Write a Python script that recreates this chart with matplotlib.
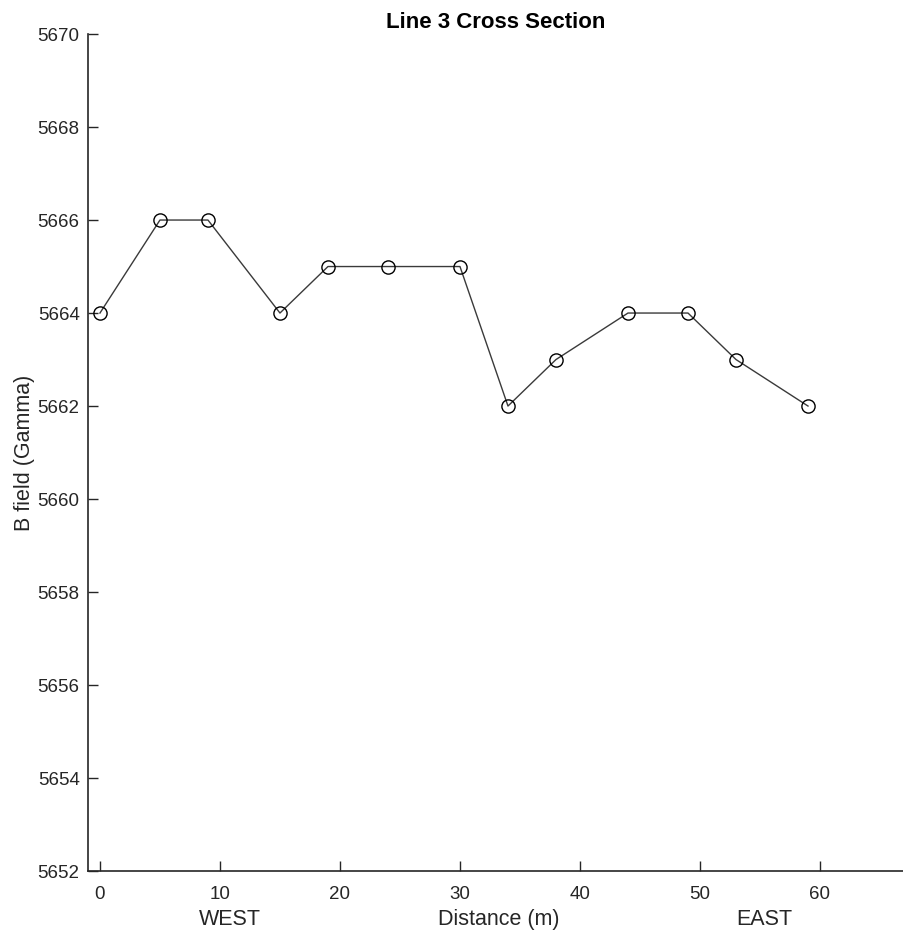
import matplotlib
matplotlib.use("Agg")
import matplotlib.pyplot as plt
import matplotlib.transforms as mtransforms

plt.rcParams['font.family'] = ['Liberation Sans', 'DejaVu Sans']

# magnetometer readings along line 3
distance = [0, 5, 9, 15, 19, 24, 30, 34, 38, 44, 49, 53, 59]
b_field = [5664, 5666, 5666, 5664, 5665, 5665, 5665, 5662, 5663, 5664, 5664, 5663, 5662]

x_ticks = [0, 10, 20, 30, 40, 50, 60]
y_ticks = list(range(5652, 5671, 2))
direction_labels = ["WEST", "EAST"]
direction_pos = [10.8, 55.4]

fig = plt.figure(figsize=(9.04, 9.35), dpi=100)
ax = fig.add_axes([0.0973, 0.0684, 0.9027, 0.8952])

ax.plot(distance, b_field, color='#3a3a3a', linewidth=1.0,
        marker='o', markersize=9.5, markerfacecolor='none',
        markeredgecolor='black', markeredgewidth=1.0)

ax.set_xlim(-1, 67)
ax.set_ylim(5652, 5670)
ax.set_xticks(x_ticks)
ax.set_yticks(y_ticks)
ax.tick_params(direction='in', length=7, width=1.0, labelsize=13.5, colors='#262626')
ax.tick_params(axis='x', pad=11)
ax.tick_params(axis='y', pad=6)
ax.spines['top'].set_visible(False)
ax.spines['right'].set_visible(False)
for s in ['left', 'bottom']:
    ax.spines[s].set_linewidth(1.2)
    ax.spines[s].set_color('#262626')

ax.set_xlabel('Distance (m)', fontsize=15.5, color='#262626')
ax.xaxis.set_label_coords(0.504, -0.0455)
ax.set_ylabel('B field (Gamma)', fontsize=15.5, color='#262626')
ax.yaxis.set_label_coords(-0.065, 0.5)
ax.set_title('Line 3 Cross Section', fontsize=16, fontweight='bold', pad=4)

trans = mtransforms.blended_transform_factory(ax.transData, ax.transAxes)
for lbl, pos in zip(direction_labels, direction_pos):
    ax.text(pos, -0.0455, lbl, transform=trans, fontsize=15.5, color='#262626',
            ha='center', va='top')

fig.savefig('out.png', dpi=100, facecolor='white')
